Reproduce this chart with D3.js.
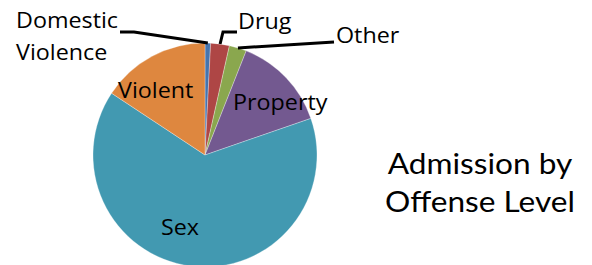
<!DOCTYPE html>
<html>
<head>
<meta charset="utf-8">
<script src="https://cdn.jsdelivr.net/npm/d3@7"></script>
<style>
  body { margin: 0; background: #fff; }
  svg { display: block; }
  .lbl { font-family: "Open Sans", sans-serif; font-size: 21px; fill: #000; }
  .title { font-family: "Lato", sans-serif; font-size: 29px; fill: #000; }
</style>
</head>
<body>
<svg id="chart" width="592" height="265"></svg>
<script>
// categories and their share of admissions (%)
var categories = ["Domestic Violence", "Drug", "Other", "Property", "Sex", "Violent"];
var shares = [0.8, 2.7, 2.5, 13.7, 64.6, 15.7];
var colors = ["#4574AE", "#AE4645", "#8AA74E", "#735990", "#4299B1", "#DE873F"];
var titleLines = ["Admission by", "Offense Level"];

// label placement (text start x, baseline y); some with leader line elbows
var labelPos = [
    { lines: ["Domestic", "Violence"], x: 16, y: 28, dy: 32, elbow: [[134, 32], [120, 32]] },
    { lines: ["Drug"], x: 238, y: 29, elbow: [[223, 32], [237, 32]] },
    { lines: ["Other"], x: 336, y: 43, elbow: [[334, 42]] },
    { lines: ["Property"], x: 233, y: 110 },
    { lines: ["Sex"], x: 161, y: 235 },
    { lines: ["Violent"], x: 118, y: 98 }
];

var svg = d3.select("#chart");
var cx = 205, cy = 155, radius = 112;
// the original type is set a little wider than the fonts available here
var lblStretch = 1.11, titleStretch = 1.09;

var pie = d3.pie().sort(null).value(function(d) { return d; });
var arcs = pie(shares);
var arc = d3.arc().innerRadius(0).outerRadius(radius);

var g = svg.append("g").attr("transform", "translate(" + cx + "," + cy + ")");

g.selectAll("path")
    .data(arcs)
    .enter()
    .append("path")
    .attr("d", arc)
    .attr("fill", function(d, i) { return colors[i]; })
    .attr("stroke", "#ffffff")
    .attr("stroke-opacity", 0.5)
    .attr("stroke-width", 0.6);

// leader lines from the pie edge to the outside labels
var line = d3.line();
arcs.forEach(function(a, i) {
    var lp = labelPos[i];
    if (!lp.elbow) return;
    var mid = (a.startAngle + a.endAngle) / 2;
    var start = [cx + Math.sin(mid) * radius, cy - Math.cos(mid) * radius];
    var pts = [start].concat(lp.elbow);
    svg.append("path")
        .attr("d", line(pts))
        .attr("fill", "none")
        .attr("stroke", "#000")
        .attr("stroke-width", 3);
});

// labels
labelPos.forEach(function(lp) {
    lp.lines.forEach(function(t, j) {
        var y = lp.y + j * (lp.dy || 0);
        svg.append("text")
            .attr("class", "lbl")
            .attr("transform", "translate(" + lp.x + "," + y + ") scale(" + lblStretch + ",1)")
            .text(t);
    });
});

// title
svg.selectAll("text.title")
    .data(titleLines)
    .enter()
    .append("text")
    .attr("class", "title")
    .attr("transform", function(d, i) {
        return "translate(480," + (174 + i * 38) + ") scale(" + titleStretch + ",1)";
    })
    .attr("text-anchor", "middle")
    .text(function(d) { return d; });
</script>
</body>
</html>
